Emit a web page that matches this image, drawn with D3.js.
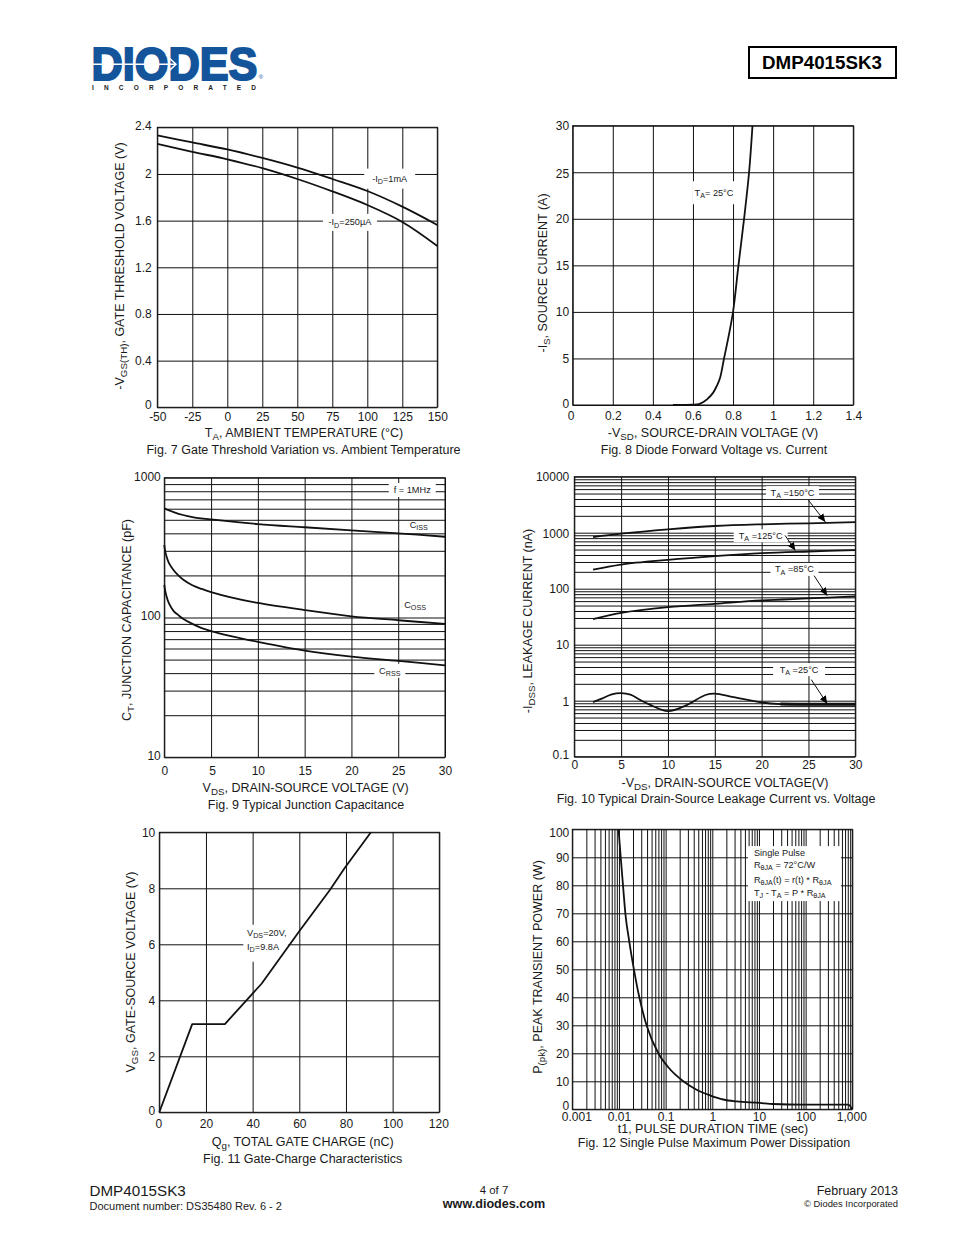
<!DOCTYPE html>
<html><head><meta charset="utf-8">
<script src="https://cdn.jsdelivr.net/npm/d3@7"></script>
<style>
html,body{margin:0;padding:0;background:#fff}
svg{display:block}
text{font-family:"Liberation Sans",Arial,sans-serif;fill:#1a1a1a}
</style></head><body>
<svg id="page" width="954" height="1235" viewBox="0 0 954 1235"></svg>
<script>
// ---------- data ----------
const fig7Temps=[-50,-25,0,25,50,75,100,125,150];
const fig7Id1mA=[2.33,2.27,2.21,2.137,2.054,1.957,1.854,1.72,1.563];
const fig7Id250uA=[2.257,2.19,2.126,2.05,1.957,1.851,1.734,1.589,1.383];
const fig7XTicks=[-50,-25,0,25,50,75,100,125,150];
const fig7YTicks=[0,0.4,0.8,1.2,1.6,2,2.4];

const fig8Volts=[0.5,0.6,0.63,0.65,0.67,0.7,0.72,0.735,0.755,0.778,0.8,0.827,0.855,0.88,0.897];
const fig8Amps=[0,0.03,0.1,0.3,0.6,1.3,2.1,2.9,5,7.4,10,15,20,25,30];
const fig8XTicks=[0,0.2,0.4,0.6,0.8,1,1.2,1.4];
const fig8YTicks=[0,5,10,15,20,25,30];

const fig9VdsIss=[0,1,2,3,5,10,15,20,25,30];
const fig9Ciss=[604,568,541,523,503,466,442,420,400,378];
const fig9Vds=[0,0.1,0.25,0.5,1,1.5,2,3,4,5,7,10,15,20,25,30];
const fig9Coss=[330,297,272,245,218,200,187,170,160,152,140,127,113,102,95.6,90];
const fig9Crss=[171,155,141,126,111,104,98,90,84,80,74,67,58,52.5,49,45.5];
const fig9XTicks=[0,5,10,15,20,25,30];
const fig9YLabels=[10,100,1000];

const fig10Vds=[2,5,10,15,20,25,30];
const fig10T150=[836,960,1148,1318,1413,1472,1550];
const fig10T125=[219,270,327,381,431,462,489];
const fig10T85=[28.5,37,46.9,53.8,61.7,67,72.8];
const fig10VdsT25=[2,3,4,5,6,7,8,10,12,14,15,17,20,22,25,30];
const fig10T25=[0.946,1.1,1.3,1.37,1.28,1.04,0.86,0.65,0.836,1.265,1.34,1.16,0.93,0.87,0.86,0.86];
const fig10XTicks=[0,5,10,15,20,25,30];
const fig10YLabels=[0.1,1,10,100,1000,10000];

const fig11Qg=[0,14.1,28.1,43.9,60.3,73.1,79.6,90.7];
const fig11Vgs=[0,3.15,3.15,4.6,6.5,7.94,8.74,10];
const fig11XTicks=[0,20,40,60,80,100,120];
const fig11YTicks=[0,2,4,6,8,10];

const fig12Time=[0.0098,0.0109,0.0122,0.0137,0.0166,0.0209,0.0273,0.039,0.0697,0.114,0.239,0.46,0.89,1.72,3.3,10.5,20,90,813,1000];
const fig12Power=[100,90,80,70,60,50,40,30,20,15,10,7,5,3.5,2.8,2.3,1.9,1.7,1.7,0];
const fig12XLabels=["0.001","0.01","0.1","1","10","100","1,000"];
const fig12YTicks=[0,10,20,30,40,50,60,70,80,90,100];

// ---------- helpers ----------
const svg=d3.select("#page");
const defs=svg.append("defs");
defs.append("marker").attr("id","arrow").attr("viewBox","0 0 10 10").attr("refX",10).attr("refY",5)
 .attr("markerWidth",8).attr("markerHeight",8).attr("markerUnits","userSpaceOnUse").attr("orient","auto")
 .append("path").attr("d","M0,0.5L10,5L0,9.5Z").attr("fill","#000");

function rich(sel,str){
  const parts=str.split(/(_\{[^}]*\})/).filter(s=>s.length);
  let pending=0;
  parts.forEach(p=>{
    const sub=p.startsWith("_{");
    const t=sel.append("tspan").text(sub?p.slice(2,-1):p);
    const size=parseFloat(sel.attr("font-size"));
    const shift=Math.round(size*0.25*10)/10;
    if(sub){t.attr("font-size",size*0.78).attr("dy",shift);pending=shift;}
    else if(pending){t.attr("dy",-pending);pending=0;}
  });
  return sel;
}
function txt(g,x,y,str,size,anchor,weight){
  const t=g.append("text").attr("x",x).attr("y",y).attr("font-size",size)
    .attr("text-anchor",anchor||"middle");
  if(weight)t.attr("font-weight",weight);
  rich(t,str);return t;
}
function panel(o){
  const g=svg.append("g");
  const w=o.x.range()[1]-o.x.range()[0], h=o.y.range()[0]-o.y.range()[1];
  const xAxis=d3.axisBottom(o.x).tickValues(o.xVals).tickSize(-h).tickPadding(o.xPad).tickFormat(o.xFmt);
  const yAxis=d3.axisLeft(o.y).tickValues(o.yVals).tickSize(-w).tickPadding(o.yPad).tickFormat(o.yFmt);
  const gx=g.append("g").attr("transform",`translate(0,${o.y.range()[0]})`).call(xAxis);
  const gy=g.append("g").attr("transform",`translate(${o.x.range()[0]},0)`).call(yAxis);
  [gx,gy].forEach(a=>{
    a.attr("font-family",null).attr("font-size",null);
    a.selectAll("line").attr("stroke","#111").attr("stroke-width",1);
    a.selectAll(".domain").remove();
    a.selectAll("text").attr("font-size",12).attr("fill","#1a1a1a");
    a.selectAll(".tick text").filter(function(){return this.textContent==="";}).remove();
  });
  if(o.yShift)gy.selectAll(".tick text").attr("transform",d=>`translate(0,${o.yShift(d)})`);
  if(o.xShift)gx.selectAll(".tick text").attr("transform",d=>`translate(${o.xShift(d)},0)`);
  g.noteLayer=g.append("g");
  g.curves=g.append("g");
  g.append("rect").attr("x",o.x.range()[0]).attr("y",o.y.range()[1]).attr("width",w).attr("height",h)
    .attr("fill","none").attr("stroke","#111").attr("stroke-width",1);
  txt(g,o.xTitle[1],o.xTitle[2],o.xTitle[0],12.5);
  txt(g,o.caption[1],o.caption[2],o.caption[0],12.5);
  const yt=g.append("text").attr("transform",`translate(${o.yTitle[1]},${o.yTitle[2]}) rotate(-90)`)
    .attr("text-anchor","middle").attr("font-size",12.5);
  rich(yt,o.yTitle[0]);
  return g;
}
const smooth=d3.curveCatmullRom.alpha(0.5);
function curve(g,x,y,xs,ys,kind,width){
  const line=d3.line().x(d=>x(d[0])).y(d=>y(d[1])).curve(kind||smooth);
  return g.curves.append("path").attr("d",line(xs.map((v,i)=>[v,ys[i]])))
    .attr("fill","none").attr("stroke","#111").attr("stroke-width",width||1.8).attr("stroke-linejoin","round");
}
function note(g,cx,cy,str,w,h,size){
  if(w)g.noteLayer.append("rect").attr("x",cx-w/2).attr("y",cy-h/2).attr("width",w).attr("height",h).attr("fill","#fff");
  txt(g.noteLayer,cx,cy+3,str,size||9.2);
}
function arrow(g,x1,y1,x2,y2){
  g.curves.append("line").attr("x1",x1).attr("y1",y1).attr("x2",x2).attr("y2",y2)
    .attr("stroke","#111").attr("stroke-width",1).attr("marker-end","url(#arrow)");
}
const dec=d=>{const l=Math.log10(d);return Math.abs(l-Math.round(l))<1e-9;};

// ---------- figure 7 ----------
{
 const x=d3.scaleLinear().domain([-50,150]).range([157.3,437.3]);
 const y=d3.scaleLinear().domain([0,2.4]).range([407.3,127.3]);
 const g=panel({x,y,xVals:fig7XTicks,yVals:fig7YTicks,xPad:5,yPad:5.5,xFmt:d=>d,yFmt:d=>d,
  yShift:d=>d===0?-3:d===2.4?-1.5:0,
  xTitle:["T_{A}, AMBIENT TEMPERATURE (°C)",304,436.5],
  caption:["Fig. 7 Gate Threshold Variation vs. Ambient Temperature",303.5,453.5],
  yTitle:["-V_{GS(TH)}, GATE THRESHOLD VOLTAGE (V)",123.5,266]});
 note(g,x(116),y(1.96),"-I_{D}=1mA",51,20);
 note(g,x(87.6),y(1.585),"-I_{D}=250µA",54,17);
 curve(g,x,y,fig7Temps,fig7Id1mA);
 curve(g,x,y,fig7Temps,fig7Id250uA);
}
// ---------- figure 8 ----------
{
 const x=d3.scaleLinear().domain([0,1.4]).range([572.7,853.3]);
 const y=d3.scaleLinear().domain([0,30]).range([405,125.7]);
 const g=panel({x,y,xVals:fig8XTicks,yVals:fig8YTicks,xPad:6.5,yPad:3.5,xFmt:d=>d,yFmt:d=>d,
  yShift:d=>d===0?-1.5:d===25?1:0,xShift:d=>d===0?-2:0,
  xTitle:["-V_{SD}, SOURCE-DRAIN VOLTAGE (V)",713,437],
  caption:["Fig. 8 Diode Forward Voltage vs. Current",714,454],
  yTitle:["-I_{S}, SOURCE CURRENT (A)",547,273]});
 note(g,x(0.705),y(22.8),"T_{A}= 25°C",42,23);
 curve(g,x,y,fig8Volts,fig8Amps);
}
// ---------- figure 9 ----------
{
 const x=d3.scaleLinear().domain([0,30]).range([164.3,445]);
 const y=d3.scaleLog().domain([10,1000]).range([757.3,477.7]);
 const g=panel({x,y,xVals:fig9XTicks,yVals:y.ticks(),xPad:9,yPad:3.5,xFmt:d=>d,
  yFmt:d=>fig9YLabels.some(v=>Math.abs(v-d)<1e-6)?d:"",
  yShift:d=>d===10?-2:d===100?-1.5:d===1000?-1:0,xShift:d=>d===5?1:0,
  xTitle:["V_{DS}, DRAIN-SOURCE VOLTAGE (V)",305.7,792],
  caption:["Fig. 9 Typical Junction Capacitance",306,809],
  yTitle:["C_{T}, JUNCTION CAPACITANCE (pF)",131,620]});
 note(g,x(26.5),y(817),"f = 1MHz",47,14);
 note(g,x(27.2),y(460),"C_{ISS}",0,0);
 note(g,x(26.8),y(123),"C_{OSS}",0,0);
 note(g,x(24.1),y(41.6),"C_{RSS}",31,14);
 curve(g,x,y,fig9VdsIss,fig9Ciss);
 curve(g,x,y,fig9Vds,fig9Coss);
 curve(g,x,y,fig9Vds,fig9Crss);
}
// ---------- figure 10 ----------
{
 const x=d3.scaleLinear().domain([0,30]).range([574.3,855.3]);
 const y=d3.scaleLog().domain([0.1,10000]).range([756.7,476.7]);
 const g=panel({x,y,xVals:fig10XTicks,yVals:y.ticks(),xPad:3.7,yPad:5,xFmt:d=>d,
  yFmt:d=>{const hit=fig10YLabels.find(v=>Math.abs(v-d)/v<1e-6);return hit===undefined?"":hit;},
  yShift:d=>d<0.11?-2:(Math.abs(d-1000)<1e-6||Math.abs(d-1)<1e-6)?1:0,
  xTitle:["-V_{DS}, DRAIN-SOURCE VOLTAGE(V)",725,787],
  caption:["Fig. 10 Typical Drain-Source Leakage Current vs. Voltage",716,803],
  yTitle:["-I_{DSS}, LEAKAGE CURRENT (nA)",532,621]});
 note(g,x(23.3),y(5200),"T_{A} =150°C",53,13);
 note(g,x(19.9),y(880),"T_{A} =125°C",54,13);
 note(g,x(23.5),y(221),"T_{A} =85°C",48,13);
 note(g,x(24),y(3.6),"T_{A} =25°C",52,13);
 curve(g,x,y,fig10Vds,fig10T150);
 curve(g,x,y,fig10Vds,fig10T125);
 curve(g,x,y,fig10Vds,fig10T85);
 curve(g,x,y,fig10VdsT25,fig10T25);
 const k=fig10VdsT25.indexOf(22);
 curve(g,x,y,fig10VdsT25.slice(k),fig10T25.slice(k),d3.curveMonotoneX,3);
 arrow(g,x(25),y(3800),x(26.8),y(1560));
 arrow(g,x(22.5),y(895),x(23.6),y(482));
 arrow(g,x(25.6),y(171),x(27),y(75));
 arrow(g,x(25.3),y(2.38),x(27),y(0.88));
}
// ---------- figure 11 ----------
{
 const x=d3.scaleLinear().domain([0,120]).range([159.3,439.3]);
 const y=d3.scaleLinear().domain([0,10]).range([1112.3,832.3]);
 const g=panel({x,y,xVals:fig11XTicks,yVals:fig11YTicks,xPad:7,yPad:4,xFmt:d=>d,yFmt:d=>d,
  yShift:d=>d===0?-2:0,xShift:d=>d===0?-1:d===120?-1:0,
  xTitle:["Q_{g}, TOTAL GATE CHARGE (nC)",302.7,1146],
  caption:["Fig. 11 Gate-Charge Characteristics",302.7,1163],
  yTitle:["V_{GS}, GATE-SOURCE VOLTAGE (V)",135,972]});
 g.noteLayer.append("rect").attr("x",x(36)).attr("y",y(6.7)).attr("width",45).attr("height",37).attr("fill","#fff");
 txt(g.noteLayer,x(37.6),y(6.3),"V_{DS}=20V,",9.2,"start");
 txt(g.noteLayer,x(37.6),y(5.8),"I_{D}=9.8A",9.2,"start");
 curve(g,x,y,fig11Qg,fig11Vgs,d3.curveLinear);
}
// ---------- figure 12 ----------
{
 const x=d3.scaleLog().domain([0.001,1000]).range([572.3,852.3]);
 const y=d3.scaleLinear().domain([0,100]).range([1109.3,829.3]);
 const g=panel({x,y,xVals:x.ticks(),yVals:fig12YTicks,xPad:2.8,yPad:3,
  xFmt:d=>dec(d)?fig12XLabels[Math.round(Math.log10(d))+3]:"",yFmt:d=>d,
  yShift:d=>d===100?3:d===0?-4:0,xShift:d=>Math.abs(d-0.001)<1e-9?4:Math.abs(d-1000)<1e-6?-1:0,
  xTitle:["t1, PULSE DURATION TIME (sec)",713,1133],
  caption:["Fig. 12 Single Pulse Maximum Power Dissipation",714,1147],
  yTitle:["P_{(pk)}, PEAK TRANSIENT POWER (W)",542,967]});
 g.noteLayer.append("rect").attr("x",x(5.8)).attr("y",y(94)).attr("width",93).attr("height",55).attr("fill","#fff");
 const lines=["Single Pulse","R_{θJA} = 72°C/W","R_{θJA}(t) = r(t) * R_{θJA}","T_{J} - T_{A} = P * R_{θJA}"];
 const vals=[90.5,86.3,81,76.3];
 lines.forEach((s,i)=>txt(g.noteLayer,x(7.8),y(vals[i]),s,9.2,"start"));
 curve(g,x,y,fig12Time,fig12Power,d3.curveMonotoneX);
}
// ---------- page furniture ----------
{
 const h=svg.append("g");
 h.append("rect").attr("x",749).attr("y",47).attr("width",147).attr("height",31).attr("fill","none").attr("stroke","#000").attr("stroke-width",2);
 txt(h,822,68.5,"DMP4015SK3",18.8,"middle","bold").style("fill","#000");
 const blue="#14549b";
 h.append("text").attr("x",91.5).attr("y",80).attr("font-size",46).attr("font-weight","bold")
   .attr("textLength",166).attr("lengthAdjust","spacingAndGlyphs")
   .style("fill",blue).attr("stroke",blue).attr("stroke-width",2).text("DIODES");
 h.append("path").attr("d","M91,64.3H176M166,55L176,64.3L166,73.6").attr("fill","none").attr("stroke","#fff").attr("stroke-width",1.5);
 txt(h,261,79,"®",6,"middle").style("fill",blue);
 h.append("text").attr("x",92).attr("y",89.5).attr("font-size",6.5).attr("font-weight","bold")
   .attr("textLength",164).text("INCORPORATED").style("fill","#222");
 txt(h,89.5,1196,"DMP4015SK3",15.2,"start");
 txt(h,89.5,1210,"Document number: DS35480 Rev. 6 - 2",11,"start");
 txt(h,494,1194,"4 of 7",11.4);
 txt(h,494,1208,"www.diodes.com",12.6,"middle","bold");
 txt(h,898,1195,"February 2013",12.5,"end");
 txt(h,898,1207,"© Diodes Incorporated",9.4,"end");
}
</script>
</body></html>
